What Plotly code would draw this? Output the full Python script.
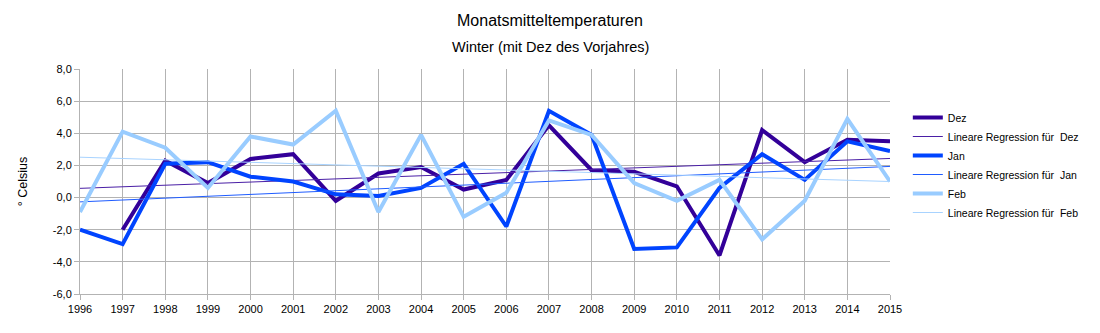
import numpy as np
import plotly.graph_objects as go

# Winter monthly mean temperatures (°C); December belongs to the previous year
years = list(range(1996, 2016))
dez = [None, -2.0, 2.3, 0.9, 2.4, 2.7, -0.2, 1.5, 1.9, 0.5, 1.1, 4.5, 1.7, 1.6, 0.7, -3.6, 4.2, 2.2, 3.6, 3.5]
jan = [-2.0, -2.9, 2.1, 2.2, 1.3, 1.0, 0.2, 0.1, 0.6, 2.1, -1.8, 5.4, 3.9, -3.2, -3.1, 0.6, 2.7, 1.1, 3.5, 2.9]
feb = [-0.9, 4.1, 3.1, 0.6, 3.8, 3.3, 5.4, -0.9, 3.9, -1.2, 0.3, 4.8, 3.9, 0.9, -0.2, 1.1, -2.6, -0.2, 4.9, 1.0]

y_ticks = [-6, -4, -2, 0, 2, 4, 6, 8]
y_tick_labels = ["-6,0", "-4,0", "-2,0", "0,0", "2,0", "4,0", "6,0", "8,0"]

series = [
    ("Dez", dez, "#330099", "#4a1fa6"),
    ("Jan", jan, "#0044ff", "#1f5cff"),
    ("Feb", feb, "#99ccff", "#a8d3ff"),
]

FONT = "Liberation Sans, Arial, sans-serif"
fig = go.Figure()

for name, vals, color, reg_color in series:
    fig.add_trace(go.Scatter(
        x=years, y=vals, mode="lines", name=name,
        line=dict(color=color, width=4), connectgaps=False,
    ))
    # least-squares trend over the available years, drawn across the full range
    xs = np.array([y for y, v in zip(years, vals) if v is not None], dtype=float)
    vs = np.array([v for v in vals if v is not None], dtype=float)
    slope, icpt = np.polyfit(xs, vs, 1)
    trend = [slope * y + icpt for y in years]
    fig.add_trace(go.Scatter(
        x=years, y=trend, mode="lines",
        name="Lineare Regression für\u00a0 " + name,
        line=dict(color=reg_color, width=1),
    ))

fig.update_layout(
    width=1100, height=333,
    margin=dict(l=80, r=210, t=69, b=39),
    paper_bgcolor="white", plot_bgcolor="white",
    font=dict(family=FONT, size=11, color="#000000"),
    showlegend=True,
    legend=dict(
        x=1.022, xanchor="left", y=(294 - 165) / 225, yanchor="middle",
        font=dict(size=10.5), itemwidth=30, bgcolor="rgba(0,0,0,0)",
    ),
    annotations=[
        dict(text="Monatsmitteltemperaturen", xref="paper", yref="paper",
             x=(550 - 80) / 810, y=1 + (69 - 21) / 225, xanchor="center", yanchor="middle",
             showarrow=False, font=dict(size=16, family=FONT)),
        dict(text="Winter (mit Dez des Vorjahres)", xref="paper", yref="paper",
             x=(550 - 80) / 810, y=1 + (69 - 47) / 225, xanchor="center", yanchor="middle",
             showarrow=False, font=dict(size=14.5, family=FONT)),
    ],
)

fig.update_xaxes(
    range=[1996, 2015], tickmode="array", tickvals=years,
    ticktext=[str(y) for y in years],
    showgrid=True, gridcolor="#b3b3b3", gridwidth=1,
    showline=True, linecolor="#b3b3b3", linewidth=1,
    ticks="outside", ticklen=5, tickcolor="#b3b3b3",
    zeroline=False, tickfont=dict(size=11),
)
fig.update_yaxes(
    range=[-6, 8], tickmode="array", tickvals=y_ticks, ticktext=y_tick_labels,
    showgrid=True, gridcolor="#b3b3b3", gridwidth=1,
    showline=True, linecolor="#b3b3b3", linewidth=1,
    ticks="outside", ticklen=5, tickcolor="#b3b3b3",
    zeroline=False, tickfont=dict(size=11),
    title=dict(text="° Celsius", font=dict(size=12.5), standoff=22),
)

fig.write_html("out.html")
